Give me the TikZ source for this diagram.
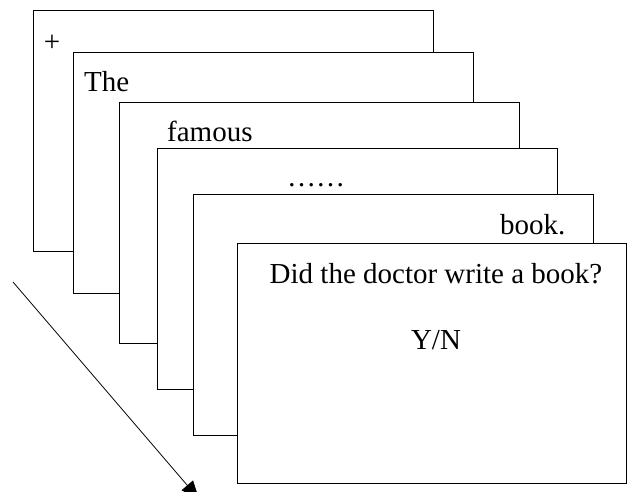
\documentclass[tikz,border=0pt]{standalone}
\usepackage{fontspec}
\setmainfont{Liberation Serif}
\usetikzlibrary{positioning, arrows.meta}

\begin{document}
\begin{tikzpicture}[x=1pt, y=-1pt]
	\tikzstyle{slide}=[rectangle, draw=black, fill=white, line width=1pt, anchor=north west, inner sep=0pt, outer sep=0pt, minimum height=240pt]
	\tikzstyle{word}=[inner sep=0pt, anchor=base west, font=\fontsize{29}{34}\selectfont]
	\useasboundingbox (0,0) rectangle (627,492);

	\foreach \i/\x/\y/\w in {1/33/11/400, 2/73/53/400, 3/119/103/400, 4/157/149/400, 5/193/195/400, 6/237/243/389}{
		\node[slide, minimum width=\w pt] (slide\i) at (\x, \y) {};
	}

	\node[word, anchor=center] (plus) at (52, 43) {+};
	\node[word] (the) at (84, 92) {The};
	\node[word] (famous) at (167, 142) {famous};
	\node[word] (dots) at (287, 187) {……};
	\node[word] (book) at (500, 234) {book.};
	\node[word, anchor=base] (question) at (436, 283) {Did the doctor write a book?};
	\node[word, anchor=base] (answer) at (436, 349) {Y/N};

	\coordinate (timestart) at (13, 282);
	\coordinate (timeend) at (199, 499);
	\draw[line width=0.8pt, -{Triangle[length=18pt, width=15pt]}] (timestart) -- (timeend);
\end{tikzpicture}
\end{document}
